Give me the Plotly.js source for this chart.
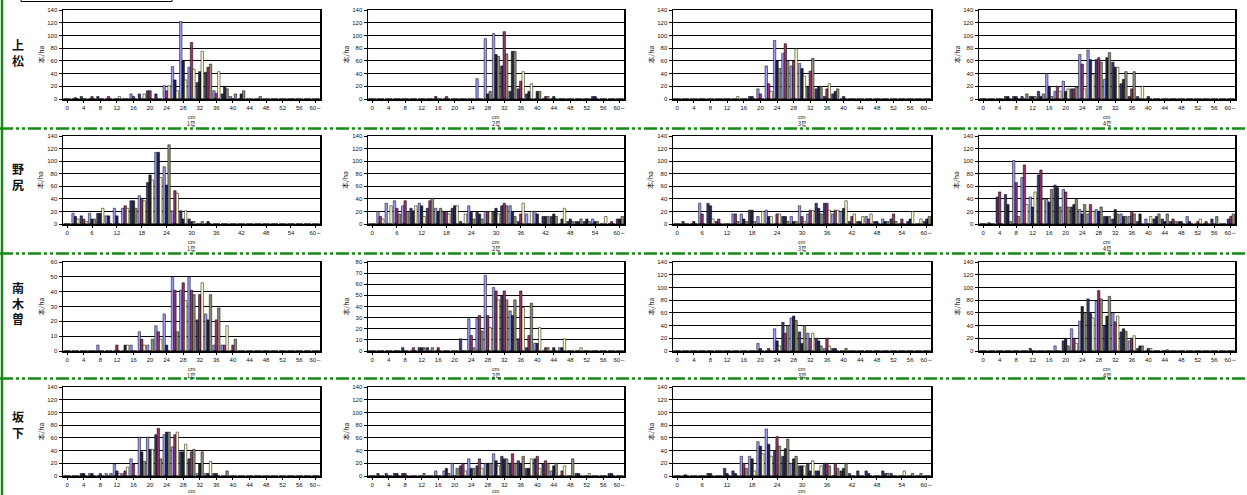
<!DOCTYPE html>
<html><head><meta charset="utf-8">
<script src="https://cdn.plot.ly/plotly-3.0.1.min.js"></script>
<style>html,body{margin:0;padding:0;background:#fff;overflow:hidden}#chart{width:1247px;height:495px}</style>
</head><body><div id="chart"></div>
<script>
// ---------- data ----------
const diameters = [0,2,4,6,8,10,12,14,16,18,20,22,24,26,28,30,32,34,36,38,40,42,44,46,48,50,52,54,56,58,60];
const ticks4 = [0,4,8,12,16,20,24,28,32,36,40,44,48,52,56,60];
const ticks4Text = ["0","4","8","12","16","20","24","28","32","36","40","44","48","52","56","60～"];
const ticks6 = [0,6,12,18,24,30,36,42,48,54,60];
const ticks6Text = ["0","6","12","18","24","30","36","42","48","54","60～"];
const siteNames = ["上<br>松","野<br>尻","南<br>木<br>曽","坂<br>下"];
const plotLabels = ["1号","2号","3号","4号"];
const yTitle = "本/ha";
const xTitle = "cm";

// 上松
const A1_b=[0,0,0,0,0, 0,0,0,8,0, 0,0,21,51,122, 50,0,0,13,0, 4,0,0,0,0, 0,0,0,0,0, 0];
const A1_n=[0,0,4,0,4, 0,0,0,0,8, 13,8,0,0,0, 0,26,42,0,8, 0,0,0,0,0, 0,0,0,0,0, 0];
const A1_m=[0,0,0,4,0, 4,0,0,4,0, 13,0,13,0,0, 89,0,50,9,0, 0,0,0,0,0, 0,0,0,0,0, 0];
const A1_k=[0,2,0,0,0, 0,0,0,0,0, 0,0,0,30,60, 0,43,0,0,20, 0,8,0,0,0, 0,0,0,0,0, 0];
const A1_c=[0,0,0,0,0, 0,4,0,0,8, 0,0,21,13,30, 47,75,0,43,0, 0,0,0,0,0, 0,0,0,0,0, 0];
const A1_o=[0,0,0,0,0, 0,0,0,0,0, 0,0,0,0,0, 0,0,55,0,16, 8,13,0,4,0, 0,0,0,0,0, 0];

const A2_b=[0,0,0,0,0, 0,0,0,0,0, 0,0,0,32,95, 103,0,0,0,0, 0,0,0,0,0, 0,0,0,0,0, 0];
const A2_n=[0,0,0,0,0, 0,0,0,4,0, 0,0,0,0,0, 0,52,12,16,8, 0,0,0,0,0, 0,0,4,0,0, 0];
const A2_m=[0,0,0,0,0, 0,0,0,0,4, 0,0,0,0,0, 0,106,0,28,0, 0,4,0,0,0, 0,0,0,0,0, 0];
const A2_k=[0,0,0,0,0, 0,0,0,0,0, 0,0,0,0,8, 70,0,75,0,12, 12,0,4,0,0, 0,0,4,0,0, 0];
const A2_c=[0,0,0,0,0, 0,0,0,0,0, 0,0,0,0,0, 0,0,0,43,24, 0,0,0,0,0, 0,0,0,0,0, 0];
const A2_o=[0,0,0,0,0, 0,0,0,0,0, 0,0,0,0,12, 67,71,75,0,0, 12,4,0,0,0, 0,0,0,0,0, 0];

const A3_b=[0,0,0,0,0, 0,0,0,0,0, 16,52,92,72,52, 56,0,0,0,0, 0,0,0,0,0, 0,0,0,0,0, 0];
const A3_n=[0,0,0,0,0, 0,0,0,0,4, 0,0,0,0,0, 0,20,16,4,8, 0,0,0,0,0, 0,0,0,0,0, 0];
const A3_m=[0,0,0,0,0, 0,0,0,0,0, 8,24,0,87,60, 0,44,0,16,0, 0,0,0,0,0, 0,0,0,0,0, 0];
const A3_k=[0,0,0,0,0, 0,0,0,0,4, 0,0,60,0,0, 48,0,20,0,12, 4,0,0,0,0, 0,0,0,0,0, 0];
const A3_c=[0,0,0,0,0, 0,0,4,0,0, 0,12,0,0,79, 36,0,0,24,0, 0,0,0,0,0, 0,0,0,0,0, 0];
const A3_o=[0,0,0,0,0, 0,0,0,0,0, 0,0,48,60,0, 0,64,20,0,16, 0,0,0,0,0, 0,0,0,0,0, 0];

const A4_b=[0,0,0,0,0, 0,0,0,40,12, 28,0,70,77,0, 31,0,0,0,0, 0,0,0,0,0, 0,0,0,0,0, 0];
const A4_n=[0,0,0,4,4, 4,4,12,0,0, 0,16,0,0,62, 0,58,24,4,4, 0,0,0,0,0, 0,0,0,0,0, 0];
const A4_m=[0,0,0,0,0, 0,0,0,0,20, 0,16,55,0,65, 0,0,0,16,0, 0,0,0,0,0, 0,0,0,0,0, 0];
const A4_k=[0,0,0,4,4, 0,4,4,20,0, 12,0,0,62,0, 65,50,31,0,0, 4,0,0,0,0, 0,0,0,0,0, 0];
const A4_c=[0,0,0,0,0, 0,0,0,0,12, 16,0,16,39,0, 0,50,0,0,20, 0,0,0,0,0, 0,0,0,0,0, 0];
const A4_o=[0,0,0,0,0, 8,4,8,4,0, 0,19,0,0,58, 73,0,43,43,0, 0,0,0,0,0, 0,0,0,0,0, 0];

// 野尻
const N1_b=[0,17,0,17,0, 13,25,25,0,45, 0,114,91,21,0, 0,0,0,0,0, 0,0,0,0,0, 0,0,0,0,0, 0];
const N1_n=[0,0,13,0,17, 0,0,0,37,0, 66,0,0,0,21, 8,0,0,0,0, 0,0,0,0,0, 0,0,0,0,0, 0];
const N1_m=[0,0,8,0,0, 0,0,29,0,41, 0,0,0,53,0, 0,0,0,0,0, 0,0,0,0,0, 0,0,0,0,0, 0];
const N1_k=[0,12,0,8,17, 13,13,0,37,0, 78,114,62,0,8, 4,0,4,0,0, 0,0,0,0,0, 0,0,0,0,0, 0];
const N1_c=[0,8,4,0,25, 0,0,25,0,37, 70,74,0,49,21, 0,0,0,0,0, 0,0,0,0,0, 0,0,0,0,0, 0];
const N1_o=[0,0,0,8,0, 0,0,0,25,0, 0,0,126,0,0, 4,4,0,0,0, 0,0,0,0,0, 0,0,0,0,0, 0];

const N2_b=[0,20,33,37,29, 0,33,0,25,0, 0,0,29,0,20, 0,0,29,0,16, 20,0,0,0,0, 0,0,8,0,0, 0];
const N2_n=[0,0,0,0,0, 25,0,25,0,20, 25,4,0,20,0, 20,29,0,4,0, 0,12,12,0,4, 4,4,0,0,0, 8];
const N2_m=[0,12,0,25,37, 0,0,37,0,20, 0,0,0,0,20, 0,33,0,16,0, 0,0,0,0,0, 0,0,0,0,4, 0];
const N2_k=[0,0,0,0,0, 21,29,0,20,0, 29,0,20,16,0, 25,0,20,0,0, 16,12,16,8,8, 4,8,4,0,0, 8];
const N2_c=[0,8,29,0,0, 29,12,0,0,16, 29,16,0,0,20, 16,0,0,33,20, 0,0,0,25,0, 0,0,0,12,0, 0];
const N2_o=[0,0,0,16,20, 0,0,41,25,0, 0,0,8,8,0, 0,29,12,0,0, 0,12,12,0,4, 8,4,4,0,0, 12];

const N3_b=[0,0,0,33,0, 0,0,16,16,0, 12,22,0,0,12, 29,16,0,0,16, 20,0,0,12,0, 8,0,0,0,0, 0];
const N3_n=[0,4,0,0,33, 4,0,0,0,22, 0,0,0,12,0, 0,0,33,33,0, 0,4,4,0,4, 0,8,0,4,0, 4];
const N3_m=[0,0,0,16,0, 8,0,16,0,0, 0,0,16,0,0, 12,22,0,33,22, 0,12,0,8,0, 0,16,8,0,0, 0];
const N3_k=[0,0,4,0,29, 0,0,0,8,22, 0,12,0,12,4, 0,0,25,0,0, 25,0,4,0,4, 4,0,0,8,0, 8];
const N3_c=[0,0,0,0,8, 0,0,0,0,0, 20,12,16,0,0, 4,22,0,22,22, 37,16,12,16,0, 0,0,0,20,8, 0];
const N3_o=[0,0,0,0,0, 0,0,4,4,4, 0,0,0,4,4, 0,0,16,0,0, 0,0,0,0,0, 4,4,0,0,0, 12];

const N4_b=[0,0,0,0,101, 74,43,0,39,0, 55,0,23,16,23, 0,0,16,12,0, 8,0,0,0,0, 12,0,0,0,0, 0];
const N4_n=[0,2,43,47,0, 0,0,78,0,62, 0,27,0,0,0, 12,8,0,0,4, 0,8,8,4,4, 0,0,0,8,0, 8];
const N4_m=[0,0,51,0,66, 94,0,86,0,0, 51,0,0,31,0, 0,0,0,20,0, 0,0,0,8,0, 0,4,4,0,0, 12];
const N4_k=[0,0,0,31,0, 0,27,0,35,58, 0,31,16,0,20, 12,23,12,0,16, 0,12,4,0,4, 4,0,0,0,0, 0];
const N4_c=[0,0,0,0,0, 31,51,39,0,0, 0,0,0,20,0, 0,0,0,0,0, 12,0,0,0,0, 0,8,0,0,0, 0];
const N4_o=[0,0,0,4,12, 0,0,0,55,27, 27,39,31,0,27, 12,16,12,16,0, 0,16,16,4,0, 0,0,0,12,0, 16];

// 南木曽
const M1_b=[0,0,0,0,4, 0,0,0,4,13, 4,17,25,50,41, 50,0,25,4,4, 0,0,0,0,0, 0,0,0,0,0, 0];
const M1_n=[0,0,0,0,0, 0,0,0,0,0, 0,0,0,0,0, 0,21,0,0,0, 0,0,0,0,0, 0,0,0,0,0, 0];
const M1_m=[0,0,0,0,0, 0,4,0,0,8, 0,13,0,41,46, 41,38,0,21,4, 4,0,0,0,0, 0,0,0,0,0, 0];
const M1_k=[0,0,0,0,0, 0,0,4,0,0, 0,0,4,0,0, 0,0,21,0,0, 0,0,0,0,0, 0,0,0,0,0, 0];
const M1_c=[0,0,0,0,0, 0,0,4,0,4, 0,8,0,0,34, 0,46,0,0,17, 0,0,0,0,0, 0,0,0,0,0, 0];
const M1_o=[0,0,0,0,0, 0,0,0,0,0, 8,0,0,13,0, 38,0,38,29,0, 8,0,0,0,0, 0,0,0,0,0, 0];

const M2_b=[0,0,0,0,0, 0,0,0,0,0, 0,0,29,29,68, 57,0,36,0,0, 7,0,0,3,0, 0,0,0,0,0, 0];
const M2_n=[0,0,0,0,3, 0,3,3,0,0, 0,11,0,0,0, 0,50,0,11,3, 0,0,0,0,0, 0,0,0,0,0, 0];
const M2_m=[0,0,0,0,0, 3,0,0,3,0, 0,0,14,32,32, 54,54,0,54,14, 0,3,0,0,0, 0,0,0,0,0, 0];
const M2_k=[0,0,0,0,0, 0,3,0,0,0, 0,0,0,0,0, 0,0,32,0,0, 7,0,3,3,0, 0,0,0,0,0, 0];
const M2_c=[0,0,0,0,0, 0,0,0,0,0, 0,0,0,0,21, 46,0,0,39,0, 21,0,0,11,0, 3,0,0,0,0, 0];
const M2_o=[0,0,0,0,0, 0,3,3,0,0, 0,0,3,18,0, 0,46,46,0,43, 0,3,0,0,0, 0,0,0,0,0, 0];

const M3_b=[0,0,0,0,0, 0,0,0,0,0, 12,0,35,0,52, 0,28,0,4,0, 0,0,0,0,0, 0,0,0,0,0, 0];
const M3_n=[0,0,0,0,0, 0,0,0,0,0, 0,0,0,45,0, 30,0,20,0,4, 0,0,0,0,0, 0,0,0,0,0, 0];
const M3_m=[0,0,0,0,0, 0,0,0,0,0, 0,4,0,28,0, 0,20,0,20,0, 0,0,0,0,0, 0,0,0,0,0, 0];
const M3_k=[0,0,0,0,0, 0,0,0,0,0, 4,0,16,0,55, 12,0,16,0,4, 0,0,0,0,0, 0,0,0,0,0, 0];
const M3_c=[0,0,0,0,0, 0,0,0,0,0, 0,0,8,0,0, 0,28,0,8,0, 0,0,0,0,0, 0,0,0,0,0, 0];
const M3_o=[0,0,0,0,0, 0,0,0,0,0, 0,0,0,40,48, 40,0,8,0,0, 4,0,0,0,0, 0,0,0,0,0, 0];

const M4_b=[0,0,0,0,0, 0,0,0,0,8, 0,35,47,0,78, 0,60,0,16,0, 0,0,0,0,0, 0,0,0,0,0, 0];
const M4_n=[0,0,0,0,0, 0,4,0,0,0, 16,0,0,82,0, 40,0,30,0,4, 0,0,0,0,0, 0,0,0,0,0, 0];
const M4_m=[0,0,0,0,0, 0,0,0,0,0, 0,20,0,0,95, 0,46,0,20,0, 0,0,0,0,0, 0,0,0,0,0, 0];
const M4_k=[0,0,0,0,0, 0,0,0,0,0, 20,0,70,59,0, 55,0,35,0,8, 4,0,0,0,0, 0,0,0,0,0, 0];
const M4_c=[0,0,0,0,0, 0,0,0,0,0, 0,12,0,52,0, 0,55,0,24,0, 4,0,0,0,0, 0,0,0,0,0, 0];
const M4_o=[0,0,0,0,0, 0,0,0,0,0, 8,0,60,0,82, 86,0,31,0,8, 0,0,2,0,0, 0,0,0,0,0, 0];

// 坂下
const S1_b=[0,0,0,4,0, 4,19,4,27,61, 61,0,65,46,0, 0,4,4,0,0, 0,0,0,0,0, 0,0,0,0,0, 0];
const S1_n=[0,0,4,0,0, 0,0,0,0,0, 0,65,0,0,38, 27,0,0,4,0, 0,0,0,0,0, 0,0,0,0,0, 0];
const S1_m=[0,0,0,0,4, 0,0,8,19,0, 0,75,0,65,0, 38,0,0,0,0, 0,0,0,0,0, 0,0,0,0,0, 0];
const S1_k=[0,0,4,4,0, 0,8,0,0,38, 42,0,69,0,38, 0,19,4,4,0, 0,0,0,0,0, 0,0,0,0,0, 0];
const S1_c=[0,0,0,0,0, 0,4,14,0,0, 42,0,0,69,50, 0,0,23,0,0, 0,0,0,0,0, 0,0,0,0,0, 0];
const S1_o=[0,0,0,0,0, 4,0,0,0,23, 0,27,69,0,0, 42,38,0,0,8, 0,0,0,0,0, 0,0,0,0,0, 0];

const S2_b=[0,0,0,0,0, 0,0,0,8,8, 20,0,27,0,20, 35,0,0,0,0, 0,0,8,0,0, 0,0,0,0,0, 0];
const S2_n=[0,4,4,4,4, 0,0,0,0,0, 0,16,0,16,0, 0,31,20,24,12, 27,20,0,0,0, 4,0,0,0,4, 0];
const S2_m=[0,0,0,0,4, 0,0,0,0,0, 0,20,0,27,0, 0,0,35,0,0, 31,24,0,8,0, 0,0,0,0,0, 0];
const S2_k=[0,0,0,4,0, 0,0,0,0,12, 0,0,12,0,20, 24,27,0,20,12, 0,0,16,0,0, 4,0,0,0,4, 0];
const S2_c=[0,0,0,0,0, 0,0,0,0,0, 0,8,0,12,0, 16,0,0,0,27, 12,0,0,16,0, 0,4,0,0,0, 0];
const S2_o=[0,0,0,0,0, 0,4,0,0,4, 12,0,12,0,20, 0,27,20,31,0, 0,20,20,0,27, 0,0,0,0,0, 0];

const S3_b=[0,0,0,0,0, 0,0,0,31,31, 54,74,0,0,20, 0,0,0,0,0, 0,0,0,0,0, 0,0,0,0,0, 0];
const S3_n=[0,0,0,0,4, 0,12,8,0,0, 0,0,39,31,0, 16,20,8,20,0, 8,4,8,8,0, 8,4,0,0,0, 0];
const S3_m=[0,0,0,0,0, 0,0,0,20,0, 0,0,62,0,0, 0,0,0,20,20, 0,0,0,0,0, 4,0,0,0,0, 0];
const S3_k=[0,2,0,0,4, 0,4,4,0,27, 47,50,0,43,27, 16,8,8,0,0, 12,0,0,4,0, 0,0,0,0,0, 0];
const S3_c=[0,0,0,0,0, 0,0,0,0,8, 35,31,0,0,0, 16,24,16,0,0, 0,0,0,0,0, 0,0,8,0,0, 0];
const S3_o=[0,0,0,0,0, 0,0,0,12,0, 0,0,47,58,31, 0,0,0,16,12, 20,0,0,0,0, 4,0,0,4,4, 0];

// ---------- layout / style ----------
const W = 1247, H = 495;
const seriesColors = ['#9999FF','#3A3A6E','#993366','#24243A','#FFFFCC','#8F8F74'];
const colX = [[63,320],[368,624],[673,931],[979,1235]];
const rowY = [[10,99],[136,224],[262,351],[387,476]];
const rowLabelY = [52,176,303,424];

const panels = [
  {r:0,c:0,s:[A1_b,A1_n,A1_m,A1_k,A1_c,A1_o],ymax:140,yd:20,xs:4},
  {r:0,c:1,s:[A2_b,A2_n,A2_m,A2_k,A2_c,A2_o],ymax:140,yd:20,xs:4},
  {r:0,c:2,s:[A3_b,A3_n,A3_m,A3_k,A3_c,A3_o],ymax:140,yd:20,xs:4},
  {r:0,c:3,s:[A4_b,A4_n,A4_m,A4_k,A4_c,A4_o],ymax:140,yd:20,xs:4},
  {r:1,c:0,s:[N1_b,N1_n,N1_m,N1_k,N1_c,N1_o],ymax:140,yd:20,xs:6},
  {r:1,c:1,s:[N2_b,N2_n,N2_m,N2_k,N2_c,N2_o],ymax:140,yd:20,xs:6},
  {r:1,c:2,s:[N3_b,N3_n,N3_m,N3_k,N3_c,N3_o],ymax:140,yd:20,xs:6},
  {r:1,c:3,s:[N4_b,N4_n,N4_m,N4_k,N4_c,N4_o],ymax:140,yd:20,xs:4},
  {r:2,c:0,s:[M1_b,M1_n,M1_m,M1_k,M1_c,M1_o],ymax:60,yd:10,xs:4},
  {r:2,c:1,s:[M2_b,M2_n,M2_m,M2_k,M2_c,M2_o],ymax:80,yd:10,xs:4},
  {r:2,c:2,s:[M3_b,M3_n,M3_m,M3_k,M3_c,M3_o],ymax:140,yd:20,xs:4},
  {r:2,c:3,s:[M4_b,M4_n,M4_m,M4_k,M4_c,M4_o],ymax:140,yd:20,xs:4},
  {r:3,c:0,s:[S1_b,S1_n,S1_m,S1_k,S1_c,S1_o],ymax:140,yd:20,xs:4},
  {r:3,c:1,s:[S2_b,S2_n,S2_m,S2_k,S2_c,S2_o],ymax:140,yd:20,xs:4},
  {r:3,c:2,s:[S3_b,S3_n,S3_m,S3_k,S3_c,S3_o],ymax:140,yd:20,xs:6}
];

const tickFont = {family:'"Liberation Sans", Arial, sans-serif', size:6, color:'#111'};
const jpFont = '"Noto Sans CJK JP", "Liberation Sans", sans-serif';
const traces = [];
const annotations = [];
const layout = {
  width:W, height:H, autosize:false,
  margin:{l:0,r:0,t:0,b:0,pad:0},
  paper_bgcolor:'#fff', plot_bgcolor:'#fff',
  barmode:'group', bargap:0.12, bargroupgap:0,
  showlegend:false, hovermode:false,
  annotations:annotations,
  shapes:[]
};

panels.forEach((p,k)=>{
  const id = k===0 ? '' : String(k+1);
  const [x0,x1] = colX[p.c], [y0,y1] = rowY[p.r];
  p.s.forEach((ys,j)=>{
    traces.push({type:'bar', x:diameters, y:ys, xaxis:'x'+id, yaxis:'y'+id,
      offsetgroup:'g'+Math.floor(j/2),
      marker:{color:seriesColors[j], line:{color:'#000', width:0.5}},
      showlegend:false, hoverinfo:'skip'});
  });
  const tv = p.xs===6 ? ticks6 : ticks4, tt = p.xs===6 ? ticks6Text : ticks4Text;
  layout['xaxis'+id] = {domain:[x0/W, x1/W], anchor:'y'+id, range:[-1,61], fixedrange:true,
    tickmode:'array', tickvals:tv, ticktext:tt, tickfont:tickFont,
    ticks:'outside', ticklen:2, tickcolor:'#000', tickwidth:1,
    showline:true, mirror:true, linecolor:'#000', linewidth:1.5,
    showgrid:false, zeroline:false};
  layout['yaxis'+id] = {domain:[1-y1/H, 1-y0/H], anchor:'x'+id, range:[0,p.ymax], dtick:p.yd, tick0:0, fixedrange:true,
    tickfont:tickFont, ticks:'outside', ticklen:3, tickcolor:'#000', tickwidth:1,
    showline:true, mirror:true, linecolor:'#000', linewidth:1.5,
    showgrid:true, gridcolor:'#000', gridwidth:1, zeroline:false};
  annotations.push({xref:'paper', yref:'paper', x:(x0-23)/W, y:1-((y0+y1)/2)/H, text:yTitle, textangle:-90,
    showarrow:false, xanchor:'center', yanchor:'middle', font:{family:jpFont, size:7, color:'#111'}});
  const lastRow = p.r === 3;
  annotations.push({xref:'paper', yref:'paper', x:((x0+x1)/2)/W, y:1-(lastRow ? 490.5 : y1+18)/H, text:xTitle,
    showarrow:false, xanchor:'center', yanchor:'middle', font:{family:tickFont.family, size:5.5, color:'#111'}});
  if (!lastRow) {
    annotations.push({xref:'paper', yref:'paper', x:((x0+x1)/2)/W, y:1-(y1+25)/H, text:plotLabels[p.c],
      showarrow:false, xanchor:'center', yanchor:'middle', font:{family:jpFont, size:5.5, color:'#111'}});
  }
});

siteNames.forEach((s,i)=>{
  annotations.push({xref:'paper', yref:'paper', x:18/W, y:1-rowLabelY[i]/H, text:'<b>'+s+'</b>',
    showarrow:false, xanchor:'center', yanchor:'middle', align:'center',
    font:{family:jpFont, size:12, color:'#111'}});
});

const green = '#158A15';
[128.5, 253.5, 378.5].forEach(y=>{
  layout.shapes.push({type:'line', xref:'paper', yref:'paper', x0:0, x1:1, y0:1-y/H, y1:1-y/H,
    line:{color:green, width:2.5, dash:'13px,3px,3px,3px,3px,3px'}});
});
layout.shapes.push({type:'line', xref:'paper', yref:'paper', x0:2/W, x1:2/W, y0:0, y1:1,
  line:{color:green, width:2.5}});
layout.shapes.push({type:'rect', xref:'paper', yref:'paper', x0:21/W, x1:172/W, y0:1-1.5/H, y1:1.05,
  line:{color:'#000', width:1}, fillcolor:'rgba(0,0,0,0)'});

Plotly.newPlot('chart', traces, layout, {staticPlot:true, displayModeBar:false});
</script></body></html>
